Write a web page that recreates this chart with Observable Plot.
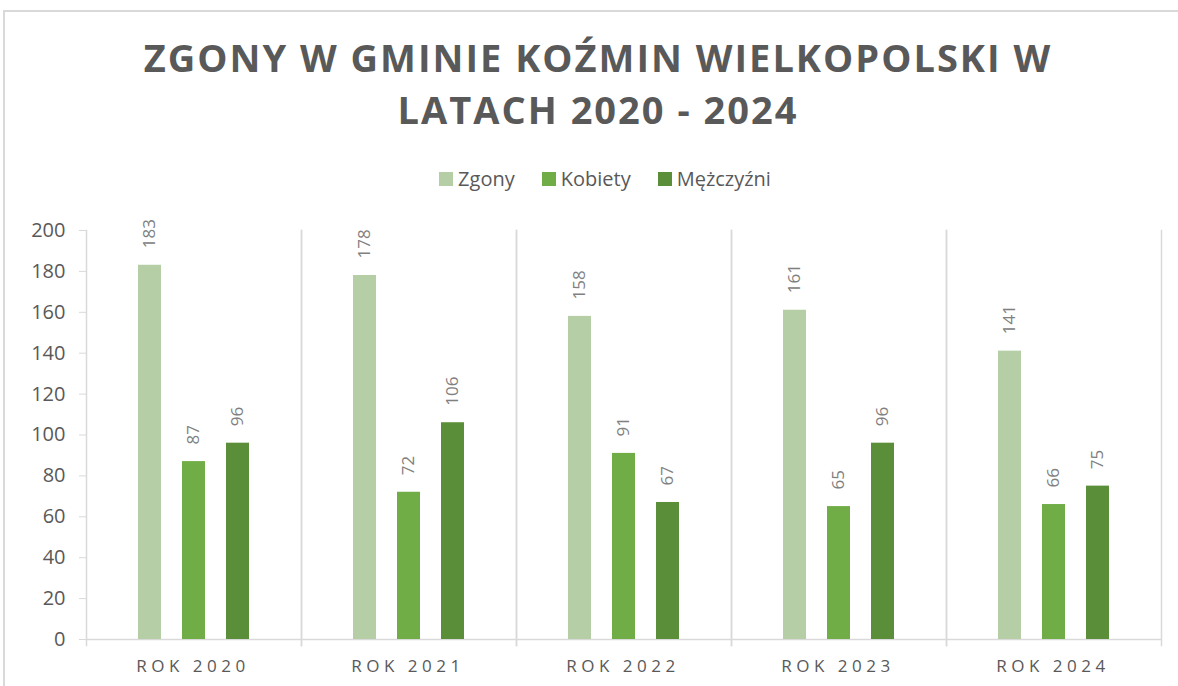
<!DOCTYPE html>
<html>
<head>
<meta charset="utf-8">
<script src="https://cdn.jsdelivr.net/npm/d3@7"></script>
<script src="https://cdn.jsdelivr.net/npm/@observablehq/plot@0.6"></script>
<style>
  html, body { margin: 0; padding: 0; background: #fff; }
  body { width: 1178px; height: 686px; overflow: hidden; position: relative; font-family: "Open Sans", sans-serif; }
  #border { position: absolute; left: 3px; top: 10px; width: 2000px; height: 2000px; border: 2px solid #d9d9d9; }
  .title { position: absolute; left: 9px; width: 1178px; text-align: center; font-weight: 700; font-size: 38px; letter-spacing: 2px; color: #595959; line-height: 1; }
  #legend { position: absolute; left: 16px; width: 1178px; top: 165px; display: flex; justify-content: center; gap: 27px; font-size: 20px; color: #595959; }
  #legend .item { display: flex; align-items: center; gap: 5px; }
  #legend .sw { width: 14px; height: 14px; display: inline-block; }
  #chart { position: absolute; left: 0; top: 200px; }
  g[aria-label="fx-axis tick label"] text { letter-spacing: 4.5px; }
</style>
</head>
<body>
<div id="border"></div>
<div class="title" style="top:38px">ZGONY W GMINIE KOŹMIN WIELKOPOLSKI W</div>
<div class="title" style="top:90px">LATACH 2020 - 2024</div>
<div id="legend"></div>
<div id="chart"></div>
<script>
const years = ["ROK 2020", "ROK 2021", "ROK 2022", "ROK 2023", "ROK 2024"];
const seriesNames = ["Zgony", "Kobiety", "Mężczyźni"];
const seriesColors = ["#b5cea5", "#70ad47", "#5b8e38"];
const zgony = [183, 178, 158, 161, 141];
const kobiety = [87, 72, 91, 65, 66];
const mezczyzni = [96, 106, 67, 96, 75];
const yTicks = [0, 20, 40, 60, 80, 100, 120, 140, 160, 180, 200];

const seriesValues = [zgony, kobiety, mezczyzni];
const data = [];
years.forEach((yr, i) => {
  seriesNames.forEach((s, j) => data.push({year: yr, series: s, value: seriesValues[j][i]}));
});

const legend = document.getElementById("legend");
seriesNames.forEach((s, j) => {
  const it = document.createElement("div");
  it.className = "item";
  it.innerHTML = `<span class="sw" style="background:${seriesColors[j]}"></span><span>${s}</span>`;
  legend.appendChild(it);
});

const chart = Plot.plot({
  width: 1178,
  height: 486,
  marginTop: 30,
  marginBottom: 47,
  marginLeft: 85,
  marginRight: 16,
  style: {fontFamily: "'Open Sans', sans-serif", background: "transparent"},
  fx: {domain: years, padding: 0, label: null},
  x: {domain: seriesNames, paddingInner: 0.477, paddingOuter: 1.18, axis: null},
  y: {domain: [0, 200], label: null},
  color: {domain: seriesNames, range: seriesColors},
  marks: [
    Plot.frame({anchor: "left", stroke: "#d9d9d9", strokeWidth: 1.5, insetBottom: -6}),
    Plot.frame({anchor: "right", stroke: "#d9d9d9", strokeWidth: 1.5, insetBottom: -6}),
    Plot.ruleY([0], {stroke: "#d9d9d9", strokeWidth: 1.5}),
    Plot.barY(data, {fx: "year", x: "series", y: "value", fill: "series"}),
    Plot.text(data, {fx: "year", x: "series", y: "value", text: d => String(d.value), rotate: -90, textAnchor: "start", lineAnchor: "middle", dy: -17, fontSize: 17, fill: "#808080"}),
    Plot.axisY({ticks: yTicks, tickSize: 7, tickPadding: 14, stroke: "#d9d9d9", fill: "#595959", fontSize: 20, label: null}),
    Plot.axisFx({anchor: "bottom", tickSize: 0, tickPadding: 20, fontSize: 17, fill: "#595959", label: null, dx: -1})
  ]
});
document.getElementById("chart").appendChild(chart);
</script>
</body>
</html>
